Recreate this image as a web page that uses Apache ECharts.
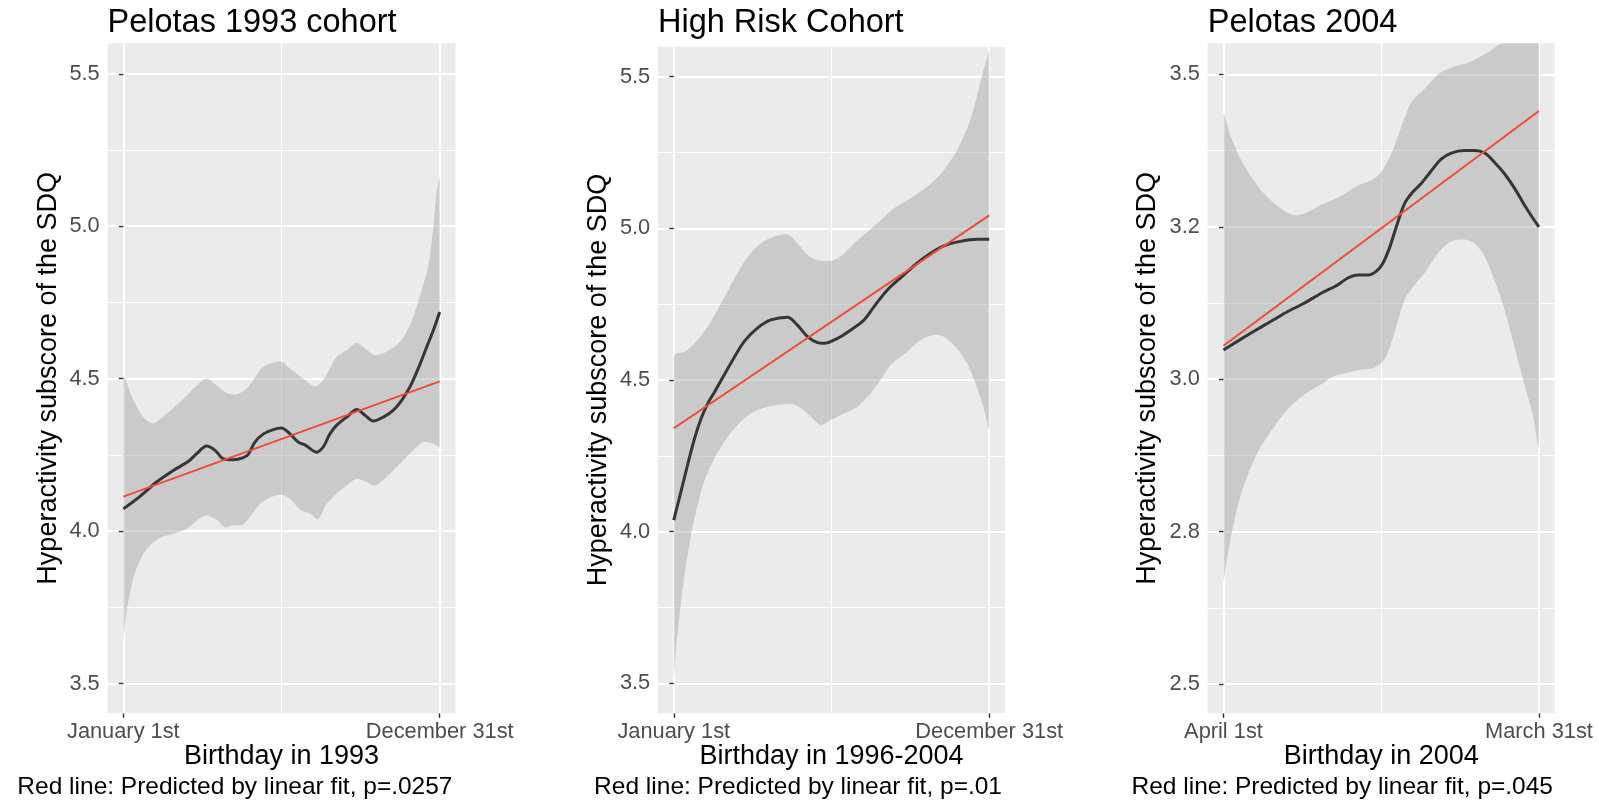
<!DOCTYPE html>
<html>
<head>
<meta charset="utf-8">
<title>Hyperactivity subscore by birthday</title>
<script src="https://cdn.jsdelivr.net/npm/echarts@6/dist/echarts.min.js"></script>
<style>
  html, body { margin: 0; padding: 0; background: #fff; }
  #chart { width: 1599px; height: 803px; }
</style>
</head>
<body>
<div id="chart"></div>
<script>
// x = position inside the birth year (0 = first day, 1 = last day)
var titles = ['Pelotas 1993 cohort', 'High Risk Cohort', 'Pelotas 2004'];
var xTitles = ['Birthday in 1993', 'Birthday in 1996-2004', 'Birthday in 2004'];
var captions = [
  'Red line: Predicted by linear fit, p=.0257',
  'Red line: Predicted by linear fit, p=.01',
  'Red line: Predicted by linear fit, p=.045'
];
var yTitle = 'Hyperactivity subscore of the SDQ';

var xTicks = [0, 1];
var xMinorTicks = [0.5];
var xTickLabels = [
  ['January 1st', 'December 31st'],
  ['January 1st', 'December 31st'],
  ['April 1st', 'March 31st']
];
var yTicks = [[3.5, 4, 4.5, 5, 5.5], [3.5, 4, 4.5, 5, 5.5], [2.5, 2.75, 3, 3.25, 3.5]];
var yTickLabels = [
  ['3.5', '4.0', '4.5', '5.0', '5.5'],
  ['3.5', '4.0', '4.5', '5.0', '5.5'],
  ['2.5', '2.8', '3.0', '3.2', '3.5']
];
var yMinorTicks = [[3.75, 4.25, 4.75, 5.25], [3.75, 4.25, 4.75, 5.25], [2.625, 2.875, 3.125, 3.375]];
var yRange = [[3.4025, 5.6], [3.401, 5.599], [2.452, 3.551]];

// Pelotas 1993
var p1Smooth = [[0,4.073],[0.053,4.114],[0.105,4.161],[0.158,4.199],[0.206,4.229],[0.232,4.254],[0.263,4.279],[0.290,4.265],[0.316,4.237],[0.348,4.234],[0.379,4.241],[0.395,4.252],[0.416,4.292],[0.443,4.319],[0.474,4.333],[0.500,4.338],[0.527,4.319],[0.553,4.292],[0.574,4.283],[0.611,4.259],[0.632,4.276],[0.653,4.319],[0.674,4.347],[0.706,4.374],[0.738,4.399],[0.764,4.380],[0.790,4.361],[0.822,4.374],[0.853,4.396],[0.880,4.429],[0.906,4.473],[0.932,4.533],[0.959,4.604],[0.980,4.659],[1,4.719]];
var p1Upper = [[0,4.505],[0.032,4.429],[0.063,4.374],[0.095,4.354],[0.137,4.385],[0.190,4.434],[0.232,4.478],[0.263,4.500],[0.295,4.478],[0.327,4.453],[0.358,4.449],[0.390,4.467],[0.421,4.511],[0.443,4.538],[0.495,4.557],[0.527,4.533],[0.569,4.500],[0.606,4.475],[0.632,4.495],[0.653,4.533],[0.674,4.571],[0.706,4.593],[0.738,4.617],[0.769,4.595],[0.796,4.577],[0.832,4.588],[0.874,4.620],[0.906,4.675],[0.927,4.735],[0.963,4.866],[0.980,4.998],[0.990,5.107],[1,5.165]];
var p1Lower = [[0,3.641],[0.011,3.740],[0.032,3.849],[0.058,3.915],[0.084,3.953],[0.116,3.978],[0.158,3.991],[0.200,4.008],[0.232,4.035],[0.263,4.051],[0.295,4.037],[0.321,4.013],[0.348,4.019],[0.379,4.022],[0.400,4.046],[0.432,4.090],[0.474,4.114],[0.500,4.119],[0.527,4.106],[0.559,4.070],[0.590,4.057],[0.616,4.040],[0.643,4.090],[0.674,4.123],[0.706,4.150],[0.738,4.172],[0.769,4.161],[0.796,4.150],[0.832,4.177],[0.874,4.221],[0.917,4.265],[0.948,4.292],[0.980,4.287],[1,4.276]];
var p1Linear = [[0,4.113],[1,4.491]];

// High Risk Cohort
var p2Smooth = [[0,4.038],[0.024,4.137],[0.045,4.225],[0.066,4.308],[0.087,4.374],[0.108,4.423],[0.129,4.460],[0.156,4.510],[0.192,4.575],[0.224,4.628],[0.266,4.672],[0.308,4.698],[0.361,4.707],[0.392,4.681],[0.424,4.643],[0.456,4.623],[0.477,4.621],[0.519,4.637],[0.561,4.665],[0.603,4.698],[0.635,4.742],[0.677,4.797],[0.729,4.846],[0.771,4.885],[0.814,4.918],[0.856,4.942],[0.908,4.957],[0.961,4.964],[1,4.964]];
var p2Upper = [[0,4.579],[0.035,4.593],[0.066,4.621],[0.108,4.676],[0.150,4.753],[0.192,4.835],[0.235,4.907],[0.277,4.951],[0.319,4.973],[0.361,4.980],[0.392,4.951],[0.424,4.912],[0.456,4.896],[0.498,4.893],[0.529,4.907],[0.572,4.951],[0.614,4.989],[0.656,5.027],[0.698,5.066],[0.750,5.099],[0.803,5.137],[0.856,5.192],[0.898,5.258],[0.940,5.357],[0.971,5.478],[1,5.588]];
var p2Lower = [[0,3.511],[0.008,3.621],[0.019,3.731],[0.035,3.863],[0.056,3.995],[0.077,4.093],[0.098,4.170],[0.129,4.242],[0.161,4.297],[0.203,4.352],[0.245,4.390],[0.298,4.412],[0.371,4.421],[0.403,4.407],[0.435,4.379],[0.466,4.352],[0.498,4.368],[0.540,4.390],[0.582,4.412],[0.624,4.456],[0.656,4.500],[0.687,4.549],[0.740,4.593],[0.782,4.632],[0.824,4.648],[0.856,4.643],[0.898,4.604],[0.929,4.555],[0.945,4.520],[0.961,4.475],[0.982,4.410],[1,4.341]];
var p2Linear = [[0,4.341],[1,5.043]];

// Pelotas 2004
var p3Smooth = [[0,3.048],[0.045,3.0625],[0.098,3.079],[0.151,3.095],[0.204,3.111],[0.257,3.125],[0.310,3.141],[0.363,3.155],[0.394,3.166],[0.426,3.171],[0.458,3.171],[0.484,3.177],[0.505,3.190],[0.526,3.215],[0.548,3.250],[0.574,3.288],[0.600,3.307],[0.627,3.321],[0.659,3.342],[0.690,3.361],[0.722,3.371],[0.764,3.375],[0.796,3.375],[0.828,3.371],[0.859,3.356],[0.891,3.337],[0.923,3.313],[0.955,3.285],[0.981,3.264],[1,3.250]];
var p3Upper = [[0,3.434],[0.024,3.397],[0.056,3.359],[0.088,3.332],[0.119,3.310],[0.151,3.293],[0.193,3.276],[0.225,3.269],[0.257,3.272],[0.299,3.283],[0.341,3.293],[0.384,3.304],[0.426,3.318],[0.468,3.326],[0.500,3.340],[0.532,3.370],[0.563,3.413],[0.595,3.454],[0.637,3.476],[0.680,3.500],[0.722,3.511],[0.775,3.519],[0.828,3.533],[0.870,3.548],[0.891,3.554],[0.950,3.590],[1,3.630]];
var p3Lower = [[0,2.665],[0.014,2.714],[0.035,2.769],[0.056,2.813],[0.088,2.857],[0.119,2.890],[0.162,2.923],[0.204,2.951],[0.257,2.975],[0.320,2.995],[0.341,3.003],[0.394,3.011],[0.437,3.016],[0.479,3.019],[0.511,3.033],[0.542,3.076],[0.574,3.130],[0.606,3.155],[0.637,3.174],[0.680,3.207],[0.722,3.226],[0.764,3.229],[0.796,3.223],[0.828,3.201],[0.859,3.163],[0.891,3.114],[0.923,3.052],[0.955,2.990],[0.981,2.940],[1,2.890]];
var p3Linear = [[0,3.055],[1,3.440]];

var smooths = [p1Smooth, p2Smooth, p3Smooth];
var uppers = [p1Upper, p2Upper, p3Upper];
var lowers = [p1Lower, p2Lower, p3Lower];
var linears = [p1Linear, p2Linear, p3Linear];

// layout
var FONT = '"Liberation Sans", Arial, Helvetica, sans-serif';
var grids = [
  { left: 107.5, top: 43.3, width: 348, height: 670 },
  { left: 658, top: 46.7, width: 347, height: 666.6 },
  { left: 1207.7, top: 43.3, width: 347, height: 670 }
];
var yTitleX = [48.5, 599, 1147.7];
var captionRight = [452.5, 1002, 1553];

function pick(list, labels, v) {
  for (var k = 0; k < list.length; k++) {
    if (Math.abs(list[k] - v) < 1e-6) return labels[k];
  }
  return '';
}

function bandRender(upper, lower) {
  return function (params, api) {
    var pts = upper.map(function (p) { return api.coord(p); })
      .concat(lower.slice().reverse().map(function (p) { return api.coord(p); }));
    var x0 = Infinity, y0 = Infinity, x1 = -Infinity, y1 = -Infinity;
    pts.forEach(function (p) {
      x0 = Math.min(x0, p[0]); y0 = Math.min(y0, p[1]);
      x1 = Math.max(x1, p[0]); y1 = Math.max(y1, p[1]);
    });
    return {
      type: 'polygon',
      shape: { points: pts, smooth: 0.3, smoothConstraint: [[x0, y0], [x1, y1]] },
      style: { fill: 'rgba(153,153,153,0.4)' }
    };
  };
}

var xAxis = [], yAxis = [], series = [], graphic = [];

for (var i = 0; i < 3; i++) {
  (function (i) {
    xAxis.push({
      gridIndex: i, type: 'value', min: -0.05, max: 1.05,
      axisLine: { show: false },
      axisTick: { show: true, length: 4.5, customValues: xTicks, lineStyle: { color: '#333', width: 1.4 } },
      axisLabel: {
        customValues: xTicks, margin: 8, fontSize: 21.8, color: '#4d4d4d', fontFamily: FONT,
        formatter: function (v) { return pick(xTicks, xTickLabels[i], v); }
      },
      splitLine: { show: true, lineStyle: { color: '#fff', width: 2.2 } }
    });
    xAxis.push({
      gridIndex: i, type: 'value', min: -0.05, max: 1.05,
      axisLine: { show: false },
      axisTick: { show: false, customValues: xMinorTicks },
      axisLabel: { show: false, customValues: xMinorTicks },
      splitLine: { show: true, lineStyle: { color: '#fff', width: 1.1 } }
    });
    yAxis.push({
      gridIndex: i, type: 'value', min: yRange[i][0], max: yRange[i][1],
      axisLine: { show: false },
      axisTick: { show: true, length: 4.5, customValues: yTicks[i], lineStyle: { color: '#333', width: 1.4 } },
      axisLabel: {
        customValues: yTicks[i], margin: 7.8, fontSize: 21.8, color: '#4d4d4d', fontFamily: FONT,
        formatter: function (v) { return pick(yTicks[i], yTickLabels[i], v); }
      },
      splitLine: { show: true, lineStyle: { color: '#fff', width: 2.2 } }
    });
    yAxis.push({
      gridIndex: i, type: 'value', min: yRange[i][0], max: yRange[i][1],
      axisLine: { show: false },
      axisTick: { show: false, customValues: yMinorTicks[i] },
      axisLabel: { show: false, customValues: yMinorTicks[i] },
      splitLine: { show: true, lineStyle: { color: '#fff', width: 1.1 } }
    });

    series.push({
      type: 'custom', xAxisIndex: 2 * i, yAxisIndex: 2 * i, clip: true, silent: true, z: 2,
      data: [[0.5, (yRange[i][0] + yRange[i][1]) / 2]],
      renderItem: bandRender(uppers[i], lowers[i])
    });
    series.push({
      type: 'line', xAxisIndex: 2 * i, yAxisIndex: 2 * i, z: 3, silent: true,
      data: smooths[i], showSymbol: false, smooth: 0.3,
      lineStyle: { color: '#363636', width: 3 }
    });
    series.push({
      type: 'line', xAxisIndex: 2 * i, yAxisIndex: 2 * i, z: 4, silent: true,
      data: linears[i], showSymbol: false,
      lineStyle: { color: '#ee4b3b', width: 2 }
    });

    var g = grids[i];
    graphic.push({
      type: 'text', x: g.left, y: 23.5,
      style: { text: titles[i], fontSize: 32.5, fontFamily: FONT, fill: '#000', align: 'left', verticalAlign: 'middle' }
    });
    graphic.push({
      type: 'text', x: yTitleX[i], y: g.top + g.height / 2, rotation: Math.PI / 2,
      style: { text: yTitle, fontSize: 27, fontFamily: FONT, fill: '#000', align: 'center', verticalAlign: 'middle' }
    });
    graphic.push({
      type: 'text', x: g.left + g.width / 2, y: 756.8,
      style: { text: xTitles[i], fontSize: 27, fontFamily: FONT, fill: '#000', align: 'center', verticalAlign: 'middle' }
    });
    graphic.push({
      type: 'text', x: captionRight[i], y: 786.8,
      style: { text: captions[i], fontSize: 24.5, fontFamily: FONT, fill: '#000', align: 'right', verticalAlign: 'middle' }
    });
  })(i);
}

var chart = echarts.init(document.getElementById('chart'), null, { renderer: 'canvas' });
chart.setOption({
  animation: false,
  backgroundColor: '#fff',
  textStyle: { fontFamily: FONT },
  grid: grids.map(function (g) {
    return {
      left: g.left, top: g.top, width: g.width, height: g.height,
      show: true, backgroundColor: '#ebebeb', borderWidth: 0,
      containLabel: false, outerBoundsMode: 'none'
    };
  }),
  xAxis: xAxis,
  yAxis: yAxis,
  series: series,
  graphic: graphic
});
</script>
</body>
</html>
